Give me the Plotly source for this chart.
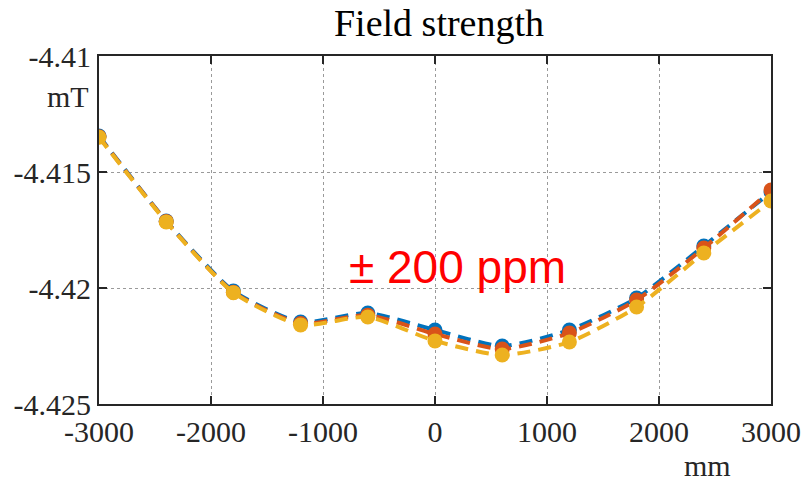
import plotly.graph_objects as go

x_mm = [-3000, -2400, -1800, -1200, -600, 0, 600, 1200, 1800, 2400, 3000]
series_names = ["Run 1", "Run 2", "Run 3"]
run1 = [-4.41345, -4.41711, -4.42013, -4.42147, -4.42108, -4.42181, -4.42250, -4.42181, -4.42043, -4.41819, -4.41586]
run2 = [-4.41348, -4.41713, -4.42018, -4.42153, -4.42117, -4.42198, -4.42263, -4.42194, -4.42052, -4.41828, -4.41578]
run3 = [-4.41350, -4.41715, -4.42020, -4.42159, -4.42125, -4.42228, -4.42289, -4.42233, -4.42082, -4.41849, -4.41625]
colors = ["#0072BD", "#D95319", "#EDB120"]
y_ticks = [-4.41, -4.415, -4.42, -4.425]
y_tick_text = ["-4.41", "-4.415", "-4.42", "-4.425"]
x_ticks = [-3000, -2000, -1000, 0, 1000, 2000, 3000]
x_tick_text = ["-3000", "-2000", "-1000", "0", "1000", "2000", "3000"]

fig = go.Figure()
for name, ys, c in zip(series_names, [run1, run2, run3], colors):
    fig.add_trace(go.Scatter(
        x=x_mm, y=ys, name=name, mode="lines+markers",
        line=dict(color=c, width=4, dash="13px,8px", shape="spline", smoothing=0.6),
        marker=dict(color=c, size=15, symbol="circle"),
    ))

serif = "Liberation Serif, Times New Roman, serif"
axis_common = dict(
    showline=True, linecolor="#262626", linewidth=2, mirror="ticks",
    ticks="inside", ticklen=8, tickwidth=2, tickcolor="#262626",
    showgrid=True, gridcolor="#9a9a9a", griddash="dot", gridwidth=1,
    zeroline=False, tickfont=dict(family=serif, size=30, color="#262626"),
)
fig.update_xaxes(range=[-3000, 3000], tickvals=x_ticks, ticktext=x_tick_text, **axis_common)
fig.update_yaxes(range=[-4.425, -4.41], tickvals=y_ticks, ticktext=y_tick_text, **axis_common)

fig.update_layout(
    width=807, height=482,
    margin=dict(l=99, r=36, t=56, b=78, autoexpand=False),
    paper_bgcolor="white", plot_bgcolor="white",
    showlegend=False,
    title=dict(text="Field strength", x=0.544, xanchor="center", y=0.952, yanchor="middle",
               font=dict(family=serif, size=38, color="black")),
    annotations=[
        dict(text="± 200 ppm", x=0.534, y=0.395, xref="paper", yref="paper",
             xanchor="center", yanchor="middle", showarrow=False,
             font=dict(family="Liberation Sans, Arial, sans-serif", size=46, color="#ff0000")),
        dict(text="mT", x=-0.012, y=0.885, xref="paper", yref="paper",
             xanchor="right", yanchor="middle", showarrow=False,
             font=dict(family=serif, size=30, color="#262626")),
        dict(text="mm", x=0.905, y=-0.178, xref="paper", yref="paper",
             xanchor="center", yanchor="middle", showarrow=False,
             font=dict(family=serif, size=30, color="#262626")),
    ],
)
fig.write_html("out.html", config={"displayModeBar": False},
               post_script="document.body.style.margin='0';document.body.style.padding='0';")
